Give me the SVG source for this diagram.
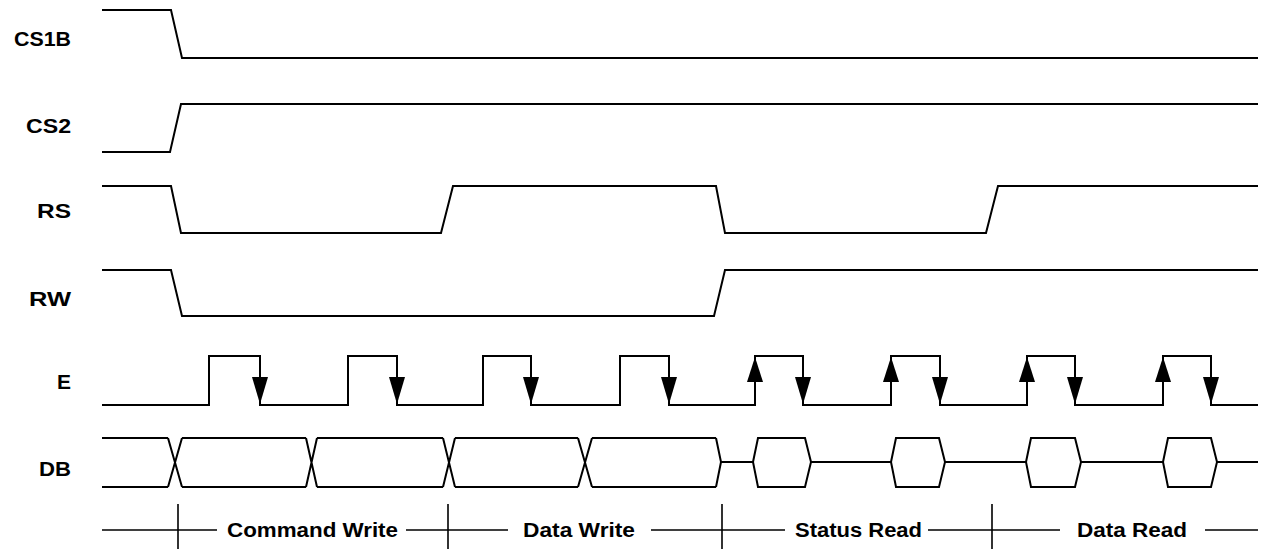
<svg xmlns="http://www.w3.org/2000/svg" xmlns:xlink="http://www.w3.org/1999/xlink" width="1263" height="549" viewBox="0 0 1263 549">
<style>
.sig{fill:none;stroke:#000;stroke-width:2;stroke-linejoin:miter}
.ax{fill:none;stroke:#000;stroke-width:1.6}
.lbl{font-family:"Liberation Sans",Arial,sans-serif;font-weight:bold;font-size:20px;fill:#000}
.ar{fill:#000;stroke:none}
</style>
<defs>
<path id="dn" d="M-8,0 L8,0 L0,27 Z"/>
<path id="up" d="M0,0 L-8,25 L8,25 Z"/>
</defs>
<rect width="1263" height="549" fill="#fff"/>
<g id="labels">
<text class="lbl" x="71" y="46" text-anchor="end" textLength="57" lengthAdjust="spacingAndGlyphs">CS1B</text>
<text class="lbl" x="71" y="133" text-anchor="end" textLength="45" lengthAdjust="spacingAndGlyphs">CS2</text>
<text class="lbl" x="71" y="218" text-anchor="end" textLength="34" lengthAdjust="spacingAndGlyphs">RS</text>
<text class="lbl" x="71" y="306" text-anchor="end" textLength="42" lengthAdjust="spacingAndGlyphs">RW</text>
<text class="lbl" x="71" y="389" text-anchor="end" textLength="14" lengthAdjust="spacingAndGlyphs">E</text>
<text class="lbl" x="71" y="476" text-anchor="end" textLength="32" lengthAdjust="spacingAndGlyphs">DB</text>
</g>
<g id="CS1B"><path class="sig" d="M102,10 H171 L182,58 H1258"/></g>
<g id="CS2"><path class="sig" d="M102,152 H170 L181,104 H1258"/></g>
<g id="RS"><path class="sig" d="M102,186 H171 L181,233 H441 L453,186 H716 L725,233 H986 L998,186 H1258"/></g>
<g id="RW"><path class="sig" d="M102,270 H171 L182,316 H714 L725,270 H1258"/></g>
<g id="E">
<path class="sig" d="M102,405 H209 V356 H260 V405 H348 V356 H397 V405 H483 V356 H531 V405 H620 V356 H669 V405 H755 V356 H803 V405 H891 V356 H940 V405 H1027 V356 H1075 V405 H1163 V356 H1211 V405 H1258"/>
<use xlink:href="#dn" class="ar" x="260" y="377"/>
<use xlink:href="#dn" class="ar" x="397" y="377"/>
<use xlink:href="#dn" class="ar" x="531" y="377"/>
<use xlink:href="#dn" class="ar" x="669" y="377"/>
<use xlink:href="#dn" class="ar" x="803" y="377"/>
<use xlink:href="#dn" class="ar" x="940" y="377"/>
<use xlink:href="#dn" class="ar" x="1075" y="377"/>
<use xlink:href="#dn" class="ar" x="1211" y="377"/>
<use xlink:href="#up" class="ar" x="755" y="357"/>
<use xlink:href="#up" class="ar" x="891" y="357"/>
<use xlink:href="#up" class="ar" x="1027" y="357"/>
<use xlink:href="#up" class="ar" x="1163" y="357"/>
</g>
<g id="DB">
<path class="sig" d="M102,438 H168 M182,438 H306 M317,438 H443 M455,438 H578 M592,438 H716 M102,487 H168 M182,487 H306 M317,487 H443 M455,487 H578 M592,487 H716"/>
<path class="sig" d="M168,438 L182,487 M168,487 L182,438 M306,438 L317,487 M306,487 L317,438 M443,438 L455,487 M443,487 L455,438 M578,438 L592,487 M578,487 L592,438 M716,438 L721,462 L716,487"/>
<path class="sig" d="M721,462 H753 M811,462 H891 M945,462 H1026 M1081,462 H1163 M1217,462 H1258"/>
<path class="sig" d="M753,462 L758,438 H805 L811,462 L805,487 H758 Z"/>
<path class="sig" d="M891,462 L896,438 H939 L945,462 L939,487 H896 Z"/>
<path class="sig" d="M1026,462 L1031,438 H1075 L1081,462 L1075,487 H1031 Z"/>
<path class="sig" d="M1163,462 L1168,438 H1211 L1217,462 L1211,487 H1168 Z"/>
</g>
<g id="phases">
<path class="ax" d="M102,530 H217 M406,530 H508 M651,530 H785 M928,530 H1060 M1205,530 H1258"/>
<path class="ax" d="M178,504 V549 M448,504 V549 M722,504 V549 M992,504 V549"/>
<text class="lbl" x="227" y="537" textLength="171" lengthAdjust="spacingAndGlyphs">Command Write</text>
<text class="lbl" x="523" y="537" textLength="112" lengthAdjust="spacingAndGlyphs">Data Write</text>
<text class="lbl" x="795" y="537" textLength="127" lengthAdjust="spacingAndGlyphs">Status Read</text>
<text class="lbl" x="1077" y="537" textLength="110" lengthAdjust="spacingAndGlyphs">Data Read</text>
</g>
</svg>
